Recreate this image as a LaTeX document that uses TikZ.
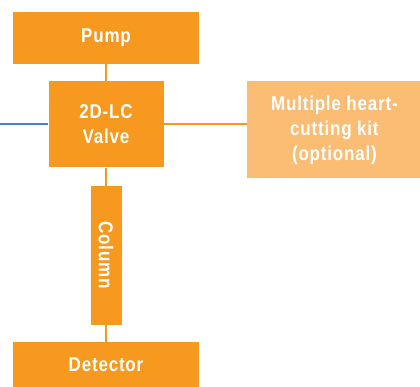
\documentclass[tikz,border=0pt]{standalone}
\usepackage{fontspec}
\setsansfont{Liberation Sans}[FakeStretch=0.85,LetterSpace=4]
\usepackage{tikz}
\usetikzlibrary{positioning}

\definecolor{agorange}{HTML}{F7991F}
\definecolor{aglight}{HTML}{FBBC74}
\definecolor{agblue}{HTML}{4A80C4}

\begin{document}
\begin{tikzpicture}[
      x=1pt, y=1pt,
      unit/.style={
        rectangle,
        fill=agorange,
        text=white,
        font=\sffamily\bfseries\fontsize{20}{25}\selectfont,
        inner sep=0pt,
        align=center
      },
      option/.style={
        unit,
        fill=aglight
      },
      pipe/.style={
        draw=agorange, line width=2pt
      },
      feed/.style={
        draw=agblue, line width=2.5pt
      }
    ]
      \useasboundingbox (0,0) rectangle (420,-387);
      \node[unit, minimum width=186pt, minimum height=52pt] (pump) at (106,-38) {Pump};
      \node[unit, minimum width=115pt, minimum height=86pt, below=17pt of pump] (valve) {2D-LC\\Valve};
      \node[unit, minimum width=31pt, minimum height=139pt, below=18pt of valve] (column) {\rotatebox{-90}{Column}};
      \node[unit, minimum width=186pt, minimum height=46pt, below=17pt of column] (detector) {Detector};
      \node[option, minimum width=175pt, minimum height=97pt,
        right=83pt of valve.north east, anchor=north west] (kit) {Multiple heart-\\cutting kit\\(optional)};
      \coordinate (inlet) at (0,-124);
      \draw[pipe] (pump) -- (valve);
      \draw[pipe] (valve) -- (column);
      \draw[pipe] (column) -- (detector);
      \draw[pipe] (valve.east) -- (valve.east -| kit.west);
      \draw[feed] (inlet) -- (inlet -| valve.west);
    \end{tikzpicture}
\end{document}
